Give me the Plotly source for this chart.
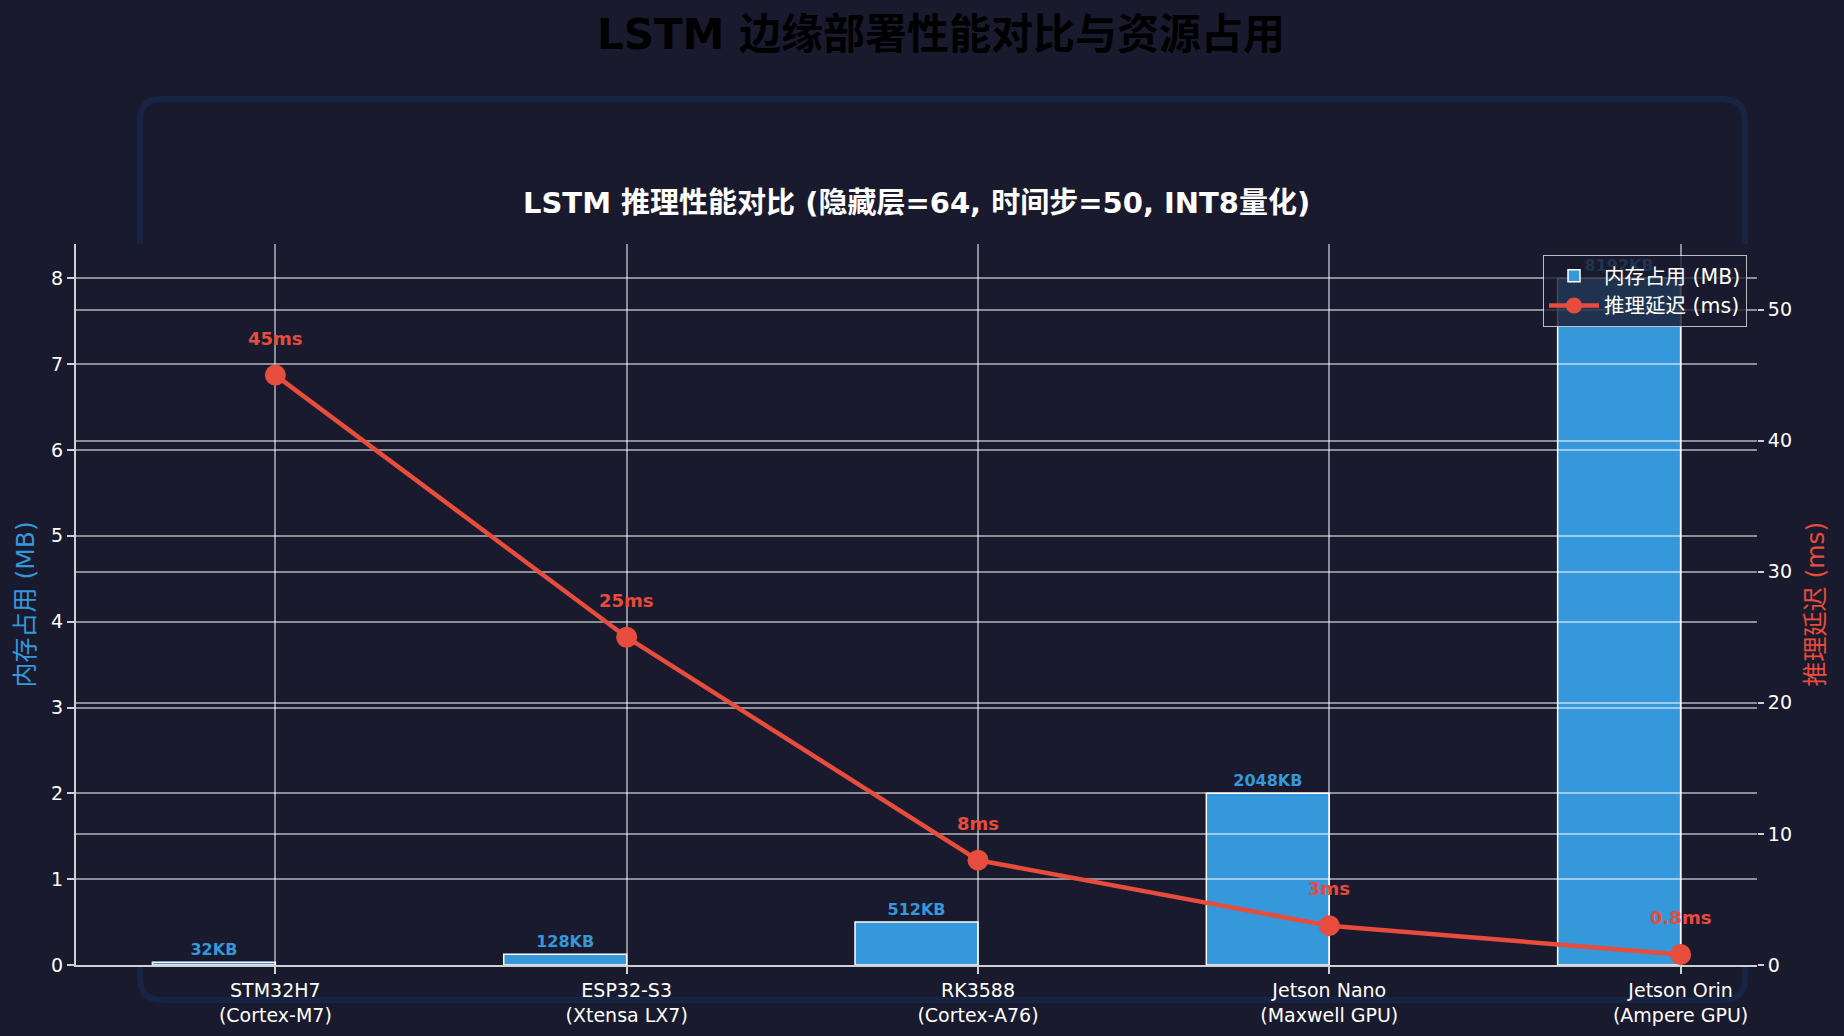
import plotly.graph_objects as go

# ---- data ----
devices = ["STM32H7", "ESP32-S3", "RK3588", "Jetson Nano", "Jetson Orin"]
chips = ["Cortex-M7", "Xtensa LX7", "Cortex-A76", "Maxwell GPU", "Ampere GPU"]
memory_kb = [32, 128, 512, 2048, 8192]
latency_ms = [45, 25, 8, 3, 0.8]
left_ticks = [0, 1, 2, 3, 4, 5, 6, 7, 8]
right_ticks = [0, 10, 20, 30, 40, 50]

memory_mb = [v / 1024 for v in memory_kb]
mem_labels = [f"{v}KB" for v in memory_kb]
lat_labels = [f"{v:g}ms" for v in latency_ms]
idx = list(range(len(devices)))
tick_text = [f"{d}<br>({c})" for d, c in zip(devices, chips)]

# ---- style ----
BG = "#1a1a2e"
BLUE = "#3498db"
RED = "#e74c3c"
GRID = "rgba(255,255,255,0.5)"
SPINE = "#d0d0d0"
FONT = "DejaVu Sans, Noto Sans CJK SC, sans-serif"

W, H = 1844, 1036
ML, MR, MT, MB = 76, 87, 244, 71
PW, PH = W - ML - MR, H - MT - MB
XR = [-0.5675, 4.2175]


def px(x):
    return (x - ML) / PW


def py(y):
    return (H - MB - y) / PH


fig = go.Figure()

fig.add_trace(go.Bar(
    x=idx, y=memory_mb, width=0.35, offset=-0.35,
    marker=dict(color=BLUE, line=dict(color="white", width=1.5)),
    text=mem_labels, textposition="outside", textangle=0,
    constraintext="none", cliponaxis=False,
    textfont=dict(color=BLUE, size=16, family=FONT, weight="bold"),
    name="内存占用 (MB)", xaxis="x", yaxis="y",
))

# invisible helper so the grid subplot (drawn above the bars) exists
fig.add_trace(go.Scatter(
    x=idx[:1], y=left_ticks[:1], mode="markers", marker=dict(opacity=0),
    showlegend=False, hoverinfo="skip", xaxis="x2", yaxis="y3",
))

fig.add_trace(go.Scatter(
    x=idx, y=latency_ms, mode="lines+markers",
    line=dict(color=RED, width=4.5),
    marker=dict(color=RED, size=21),
    name="推理延迟 (ms)", xaxis="x2", yaxis="y2", cliponaxis=False,
))

for i, v, t in zip(idx, latency_ms, lat_labels):
    fig.add_annotation(x=i, y=v, xref="x2", yref="y2", text=f"<b>{t}</b>",
                       showarrow=False, yshift=37, yanchor="middle",
                       font=dict(color=RED, size=18, family=FONT))

# decorative rounded frame, hidden inside plot area
x0, x1 = px(140), px(1745)
y0, y1 = py(1000), py(99)
rx, ry = 22 / PW, 22 / PH
path = (f"M {x0+rx},{y1} L {x1-rx},{y1} Q {x1},{y1} {x1},{y1-ry} "
        f"L {x1},{y0+ry} Q {x1},{y0} {x1-rx},{y0} L {x0+rx},{y0} "
        f"Q {x0},{y0} {x0},{y0+ry} L {x0},{y1-ry} Q {x0},{y1} {x0+rx},{y1} Z")
fig.add_shape(type="path", path=path, xref="paper", yref="paper", layer="below",
              line=dict(color="#172443", width=6), fillcolor="rgba(0,0,0,0)")
fig.add_shape(type="rect", x0=0, x1=1, y0=0, y1=1, xref="paper", yref="paper",
              layer="below", line=dict(width=0), fillcolor=BG)

fig.add_annotation(x=0.5, y=1, xref="paper", yref="paper", yshift=41,
                   text="<b>LSTM 推理性能对比 (隐藏层=64, 时间步=50, INT8量化)</b>",
                   showarrow=False, yanchor="middle",
                   font=dict(color="white", size=29, family=FONT))

fig.add_annotation(x=px(25), y=0.5, xref="paper", yref="paper", text="内存占用 (MB)",
                   textangle=-90, showarrow=False, xanchor="center", yanchor="middle",
                   font=dict(color=BLUE, size=25, family=FONT))
fig.add_annotation(x=px(1815), y=0.5, xref="paper", yref="paper", text="推理延迟 (ms)",
                   textangle=-90, showarrow=False, xanchor="center", yanchor="middle",
                   font=dict(color=RED, size=25, family=FONT))

tickfont = dict(color="white", size=19, family=FONT)

fig.update_layout(
    width=W, height=H,
    margin=dict(l=ML, r=MR, t=MT, b=MB, autoexpand=False),
    paper_bgcolor=BG, plot_bgcolor="rgba(0,0,0,0)",
    font=dict(family=FONT, color="white"),
    title=dict(text="<b>LSTM 边缘部署性能对比与资源占用</b>",
               x=941 / W, xref="container", xanchor="center",
               y=1 - 34 / H, yref="container", yanchor="middle",
               font=dict(size=42, color="black", family=FONT)),
    showlegend=True,
    legend=dict(x=px(1747), y=py(255), xref="paper", yref="paper",
                xanchor="right", yanchor="top", itemwidth=50,
                bgcolor="rgba(26,26,46,0.8)", bordercolor="rgba(255,255,255,0.7)",
                borderwidth=1, font=dict(size=20.5, color="white", family=FONT),
                traceorder="normal"),
    xaxis=dict(domain=[0, 1], range=XR, anchor="y", tickmode="array",
               tickvals=idx, ticktext=tick_text, tickfont=tickfont,
               showgrid=False, zeroline=False, showline=True, linecolor=SPINE,
               linewidth=2, ticks="outside", ticklen=7, tickwidth=1.5, tickcolor=SPINE),
    yaxis=dict(domain=[0, 1], range=[0, 8.4], anchor="x", tickmode="array",
               tickvals=left_ticks, tickfont=tickfont, showgrid=False, zeroline=False,
               showline=True, linecolor=SPINE, linewidth=2, ticks="outside",
               ticklen=7, tickwidth=1.5, tickcolor=SPINE),
    xaxis2=dict(domain=[0, 1], range=XR, anchor="y3", tickmode="array",
                tickvals=idx, showticklabels=False, ticks="", showgrid=True,
                gridcolor=GRID, gridwidth=1.5, zeroline=False, showline=False),
    yaxis3=dict(domain=[0, 1], range=[0, 8.4], anchor="x2", tickmode="array",
                tickvals=left_ticks, showticklabels=False, ticks="", showgrid=True,
                gridcolor=GRID, gridwidth=1.5, zeroline=False, showline=False),
    yaxis2=dict(range=[0, 55], overlaying="y3", side="right", anchor="x2",
                tickmode="array", tickvals=right_ticks, tickfont=tickfont,
                showgrid=True, gridcolor=GRID, gridwidth=1.5, zeroline=False,
                showline=False, ticks="outside", ticklen=6, tickwidth=1.5,
                tickcolor=SPINE),
)

fig.write_html("out.html")
